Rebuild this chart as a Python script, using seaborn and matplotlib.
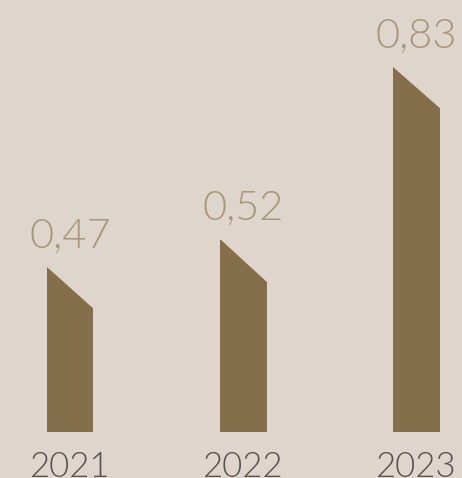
import matplotlib
matplotlib.use("Agg")
import matplotlib.pyplot as plt
import pandas as pd
import seaborn as sns

years = ["2021", "2022", "2023"]
values = [0.47, 0.52, 0.83]
value_labels = ["0,47", "0,52", "0,83"]

BG = "#ded6cd"
BAR = "#846f4a"
VALUE_COLOR = "#a8977a"
YEAR_COLOR = "#555250"

sns.set_theme(style="white")
plt.rcParams["font.family"] = ["Lato", "DejaVu Sans"]

df = pd.DataFrame({"year": years, "value": values})

fig = plt.figure(figsize=(4.62, 4.78), dpi=100, facecolor=BG)
ax = fig.add_axes([0, 46 / 478, 1, 432 / 478])
ax.set_facecolor(BG)

sns.barplot(data=df, x="year", y="value", color=BAR, width=0.27,
            saturation=1, ax=ax, linewidth=0)

ymin = 0.174
ymax = ymin + 432 / 556
ax.set_xlim(-0.404, -0.404 + 462 / 173.25)
ax.set_ylim(ymin, ymax)

# slanted top: cover the upper-right corner of each bar
drop = 43 / 556
for patch in ax.patches:
    x0 = patch.get_x()
    x1 = x0 + patch.get_width()
    top = patch.get_y() + patch.get_height()
    ax.fill([x0, x1 + 0.01, x1 + 0.01], [top + 0.001, top + 0.001, top - drop],
            color=BG, linewidth=0, zorder=5)

for i, (v, lab) in enumerate(zip(values, value_labels)):
    ax.annotate(lab, (i, v), xytext=(0, 14), textcoords="offset points",
                ha="center", va="baseline", fontsize=30,
                fontweight=300, color=VALUE_COLOR)

ax.set_xticks(range(len(years)))
ax.set_xticklabels(years, fontsize=25, color=YEAR_COLOR, fontweight=300)
ax.tick_params(axis="x", length=0, pad=14)
ax.set_yticks([])
ax.set_xlabel("")
ax.set_ylabel("")
sns.despine(ax=ax, left=True, bottom=True)

fig.savefig("out.png", dpi=100, facecolor=BG)
